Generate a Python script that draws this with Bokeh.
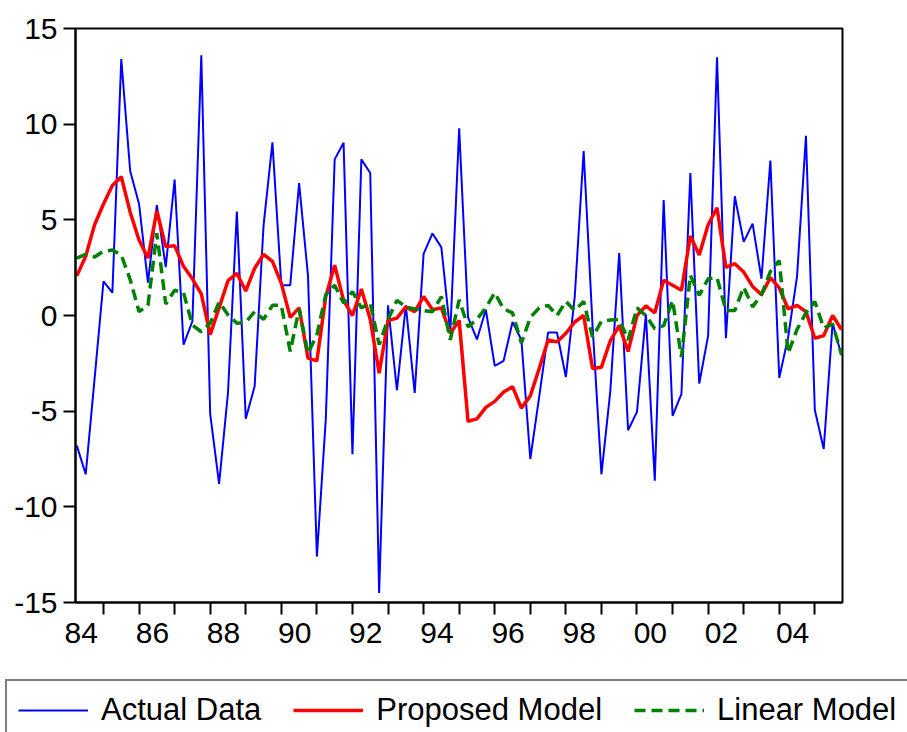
import numpy as np
from bokeh.plotting import figure
from bokeh.layouts import column
from bokeh.models import Range1d, FixedTicker, Legend, LegendItem
from bokeh.embed import file_html
from bokeh.resources import INLINE

# Quarterly data, 1984Q2 .. 2005Q4
start_year = 1984
start_quarter = 2

actual_data = [
    -6.8, -8.3, -3.3, 1.78, 1.19, 13.4, 7.55, 5.83, 1.72, 5.77,
    2.53, 7.1, -1.52, -0.3, 13.6, -5.14, -8.8, -4.05, 5.43, -5.4,
    -3.7, 4.7, 9.05, 1.58, 1.58, 6.92, 2.07, -12.6, -5.43, 8.16,
    9.03, -7.25, 8.16, 7.45, -14.5, 0.53, -3.9, 0.53, -4.05, 3.22,
    4.29, 3.56, -0.9, 9.78, -0.1, -1.25, 0.3, -2.63, -2.37, -0.34,
    -1.28, -7.5, -4.25, -0.89, -0.89, -3.22, 0.99, 8.6, -0.5, -8.3,
    -3.95, 3.26, -6.0, -5.04, 0.06, -8.64, 6.03, -5.24, -4.09, 7.45,
    -3.56, -1.05, 13.5, -1.19, 6.23, 3.85, 4.8, 1.92, 8.1, -3.26,
    -1.13, 2.04, 9.39, -4.94, -6.98, -0.4, -2.08,
]

proposed_model = [
    2.07, 3.1, 4.74, 5.83, 6.8, 7.25, 5.4, 3.95, 3.0, 5.47,
    3.6, 3.65, 2.57, 1.92, 1.13, -1.0, 0.4, 1.82, 2.2, 1.28,
    2.47, 3.2, 2.83, 1.68, -0.1, 0.4, -2.23, -2.37, 0.99, 2.63,
    0.79, 0.0, 1.38, -0.2, -3.02, -0.26, -0.14, 0.45, 0.2, 0.99,
    0.3, 0.4, -0.93, -0.26, -5.53, -5.4, -4.8, -4.49, -4.0, -3.72,
    -4.84, -4.2, -2.77, -1.28, -1.38, -0.93, -0.34, 0.0, -2.77, -2.7,
    -1.32, -0.53, -1.88, 0.0, 0.5, 0.14, 1.84, 1.58, 1.32, 4.15,
    3.16, 4.74, 5.63, 2.51, 2.71, 2.27, 1.52, 1.09, 1.98, 1.44,
    0.34, 0.53, 0.2, -1.19, -1.05, 0.0, -0.73,
]

linear_model = [
    3.0, 3.2, 3.06, 3.36, 3.42, 3.16, 1.88, 0.2, 0.53, 4.3,
    0.6, 1.32, 1.19, -0.5, -0.85, -0.4, 0.7, 0.04, -0.4, -0.36,
    0.2, -0.2, 0.53, 0.53, -1.88, 0.34, -1.98, -1.0, 1.09, 1.58,
    0.65, 1.25, 0.4, 0.65, -1.52, -0.2, 0.79, 0.45, 0.34, 0.26,
    0.2, 0.99, -1.28, 0.82, -0.59, -0.2, 0.4, 1.19, 0.34, 0.14,
    -1.44, -0.1, 0.4, 0.53, 0.0, 0.73, 0.26, 0.73, -1.13, -0.3,
    -0.24, -0.2, -1.28, 0.4, 0.0, -0.69, -0.53, 0.79, -2.17, 2.11,
    1.05, 1.92, 1.98, 0.26, 0.26, 1.48, 0.45, 1.09, 2.31, 2.87,
    -1.98, -0.73, 0.14, 0.73, -0.65, -0.45, -2.04,
]

series_names = ["Actual Data", "Proposed Model", "Linear Model"]
label_years = [1984, 1986, 1988, 1990, 1992, 1994, 1996, 1998, 2000, 2002, 2004]
x_labels = ["84", "86", "88", "90", "92", "94", "96", "98", "00", "02", "04"]
tick_years = list(range(1985, 2006))
y_ticks = [-15, -10, -5, 0, 5, 10, 15]
y_labels = ["-15", "-10", "-5", "0", "5", "10", "15"]

n = len(actual_data)
x = start_year + (start_quarter - 1) / 4 + np.arange(n) / 4.0

FONT = "Liberation Sans"
styles = [dict(line_color="#0000FF", line_width=2),
          dict(line_color="#FF0000", line_width=3.5),
          dict(line_color="#008000", line_width=3.5, line_dash="11 6")]
series = [actual_data, proposed_model, linear_model]

# ---------------- main chart ----------------
p = figure(width=907, height=675, output_backend="svg", toolbar_location=None,
           x_range=Range1d(1984.213, 2005.778), y_range=Range1d(-15, 15),
           min_border_left=75, min_border_right=65, min_border_top=28,
           min_border_bottom=73)
p.frame_align = False
p.background_fill_color = "white"
p.border_fill_color = "white"
p.outline_line_color = "black"
p.outline_line_width = 2
p.xgrid.visible = False
p.ygrid.visible = False

label_pos = [yr + 0.375 for yr in label_years]
p.xaxis.ticker = FixedTicker(ticks=label_pos, minor_ticks=tick_years)
p.xaxis.major_label_overrides = {pos: lab for pos, lab in zip(label_pos, x_labels)}
p.xaxis.major_tick_out = 0
p.xaxis.major_tick_in = 0
p.xaxis.minor_tick_out = 12
p.xaxis.minor_tick_in = 0
p.xaxis.minor_tick_line_color = "black"
p.xaxis.minor_tick_line_width = 2
p.xaxis.major_label_standoff = 8

p.yaxis.ticker = FixedTicker(ticks=y_ticks)
p.yaxis.major_label_overrides = {t: lab for t, lab in zip(y_ticks, y_labels)}
p.yaxis.major_tick_out = 12
p.yaxis.major_tick_in = 0
p.yaxis.minor_tick_out = 0
p.yaxis.minor_tick_in = 0
p.yaxis.major_tick_line_width = 2
p.yaxis.major_label_standoff = 6

for ax in (p.xaxis, p.yaxis):
    ax.axis_line_color = "black"
    ax.axis_line_width = 2
    ax.major_tick_line_color = "black"
    ax.major_label_text_font = FONT
    ax.major_label_text_font_size = "30px"
    ax.major_label_text_color = "black"

for ys, st in zip(series, styles):
    p.line(x, ys, **st)

# ---------------- legend strip ----------------
lg = figure(width=907, height=57, output_backend="svg", toolbar_location=None,
            x_range=Range1d(1984.213, 2005.778), y_range=Range1d(1000, 1001),
            x_axis_location=None, y_axis_location=None,
            min_border_left=0, min_border_right=0, min_border_top=0,
            min_border_bottom=0)
lg.frame_align = False
lg.outline_line_color = None
lg.xgrid.visible = False
lg.ygrid.visible = False
lg.background_fill_color = "white"
lg.border_fill_color = "white"

items = []
for name, ys, st in zip(series_names, series, styles):
    r = lg.line(x, ys, **st)  # same series; outside this strip's view, used only for legend keys
    items.append(LegendItem(label=name, renderers=[r]))

legend = Legend(
    items=items, orientation="horizontal", location=(5, -9),
    label_text_font=FONT, label_text_font_size="31px", label_text_color="black",
    glyph_width=70, glyph_height=28, label_height=28,
    label_standoff=13, spacing=32, padding=11, margin=0,
    border_line_color="black", border_line_width=2,
    background_fill_color="white", background_fill_alpha=1.0,
)
lg.add_layout(legend)

layout = column(p, lg, spacing=0)
open("out.html", "w").write(file_html(layout, INLINE))
